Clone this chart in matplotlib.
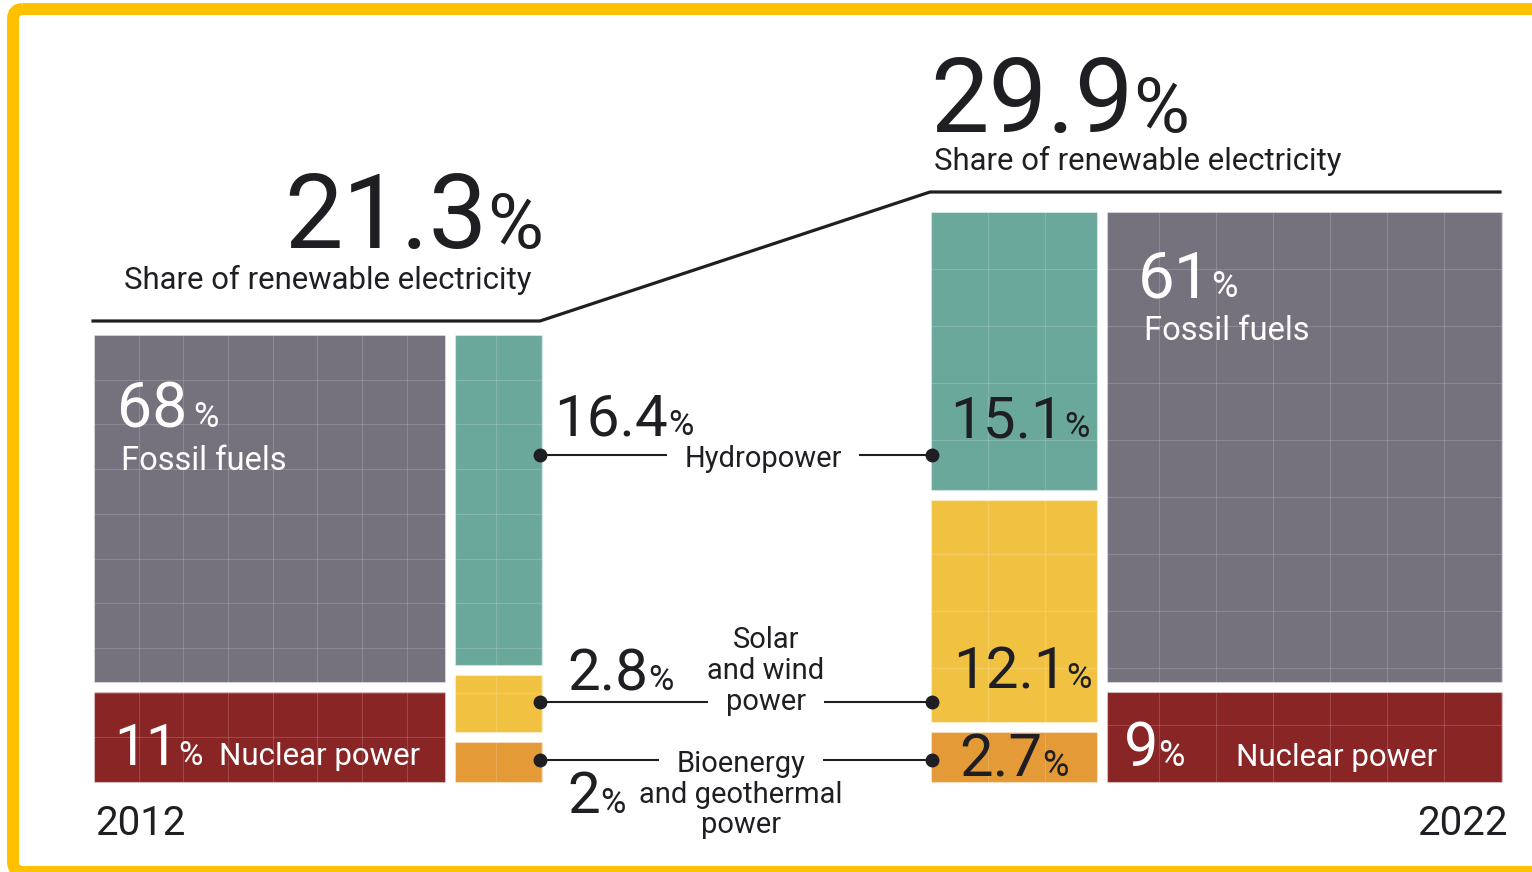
import numpy as np
import matplotlib.pyplot as plt
from matplotlib.patches import FancyBboxPatch

plt.rcParams['font.family'] = ['Roboto', 'DejaVu Sans']

# electricity generation shares, in per cent
years = ['2012', '2022']
renewable_total = [21.3, 29.9]
renewables_2012 = [16.4, 2.8, 2]
renewables_2022 = [15.1, 12.1, 2.7]
fossil_share = [68, 61]
nuclear_share = [11, 9]
renewable_names = [['Hydropower'],
                    ['Solar', 'and wind', 'power'],
                    ['Bioenergy', 'and geothermal', 'power']]

FOSSIL = '#75727d'
NUCLEAR = '#8a2526'
HYDRO = '#6ba89c'
SOLAR = '#f1c242'
BIO = '#e59a38'
INK = '#1f1e22'
FRAME = '#ffc000'

W, H = 1532, 872
fig = plt.figure(figsize=(W / 100, H / 100), dpi=100)
ax = fig.add_axes([0, 0, 1, 1])
ax.set_xlim(0, W)
ax.set_ylim(H, 0)
ax.axis('off')
renderer = fig.canvas.get_renderer()


def stack(values, top, bottom, gap, min_h):
    """Heights proportional to the values, small blocks kept at min_h."""
    v = np.array(values, float)
    avail = bottom - top - gap * (len(v) - 1)
    h = v / v.sum() * avail
    small = h < min_h
    h[small] = min_h
    h[~small] = v[~small] / v[~small].sum() * (avail - min_h * small.sum())
    tops = top + np.concatenate([[0], np.cumsum(h[:-1] + gap)])
    return tops, h


def column(x0, x1, values, colors, top, bottom, min_h, gap=10):
    tops, h = stack(values, top, bottom, gap, min_h)
    ax.bar([x0] * len(values), h, width=x1 - x0, bottom=tops, align='edge',
           color=colors, edgecolor=(1, 1, 1, 0.35), linewidth=0.8, zorder=1)
    return tops, h


def grid(x0, x1, y0, y1, step):
    for x in np.arange(x0 + step, x1, step):
        ax.plot([x, x], [y0, y1], color='white', alpha=0.16, lw=0.8, zorder=2)
    for y in np.arange(y0 + step, y1, step):
        ax.plot([x0, x1], [y, y], color='white', alpha=0.16, lw=0.8, zorder=2)


def value_label(x, y, value, size, pct_size, color, gap=0):
    # big number followed by a smaller per cent sign on the same baseline
    t = ax.text(x, y, f'{value:g}', fontsize=size, color=color,
                va='baseline', ha='left', zorder=6)
    bb = t.get_window_extent(renderer)
    xr = ax.transData.inverted().transform((bb.x1, bb.y0))[0]
    ax.text(xr + gap, y, '%', fontsize=pct_size, color=color,
            va='baseline', ha='left', zorder=6)


bottom = 782
# 2012 panel
left_top = 335
column(94, 445, [fossil_share[0], nuclear_share[0]], [FOSSIL, NUCLEAR],
       left_top, bottom, 90)
column(455, 542, renewables_2012, [HYDRO, SOLAR, BIO], left_top, bottom, 40)
grid(94, 542, left_top, bottom, 44.7)

# 2022 panel
right_top = 212
column(931, 1097, renewables_2022, [HYDRO, SOLAR, BIO], right_top, bottom, 40)
column(1107, 1502, [fossil_share[1], nuclear_share[1]], [FOSSIL, NUCLEAR],
       right_top, bottom, 90)
grid(931, 1502, right_top, bottom, 57)

# bracket over the renewable columns
ax.plot([93, 540, 930, 1500], [left_top - 14, left_top - 14,
                               right_top - 20, right_top - 20],
        color=INK, lw=2.3, solid_joinstyle='miter', zorder=3)

# headline shares
value_label(284, 248, renewable_total[0], 75, 55, INK)
ax.text(124, 289, 'Share of renewable electricity', fontsize=22.4, color=INK,
        va='baseline')
value_label(930, 132, renewable_total[1], 75, 55, INK)
ax.text(934, 170, 'Share of renewable electricity', fontsize=22.4, color=INK,
        va='baseline')

# non-renewable labels
value_label(117, 427, fossil_share[0], 45, 25, 'white', gap=6)
ax.text(121, 470, 'Fossil fuels', fontsize=23.5, color='white', va='baseline')
value_label(114, 765, nuclear_share[0], 41, 24, 'white')
ax.text(219, 765, 'Nuclear power', fontsize=22.5, color='white', va='baseline')

value_label(1138, 297, fossil_share[1], 47, 26, 'white')
ax.text(1144, 340, 'Fossil fuels', fontsize=23.5, color='white', va='baseline')
value_label(1124, 766, nuclear_share[1], 44, 26, 'white')
ax.text(1236, 766, 'Nuclear power', fontsize=22.5, color='white', va='baseline')

# renewable values: 2012 beside the column, 2022 inside it
value_label(554, 435, renewables_2012[0], 42, 25, INK)
value_label(567, 690, renewables_2012[1], 42, 25, INK)
value_label(567, 813, renewables_2012[2], 42, 25, INK)
value_label(950, 437, renewables_2022[0], 42, 25, INK)
value_label(953, 688, renewables_2022[1], 42, 25, INK)
value_label(959, 776, renewables_2022[2], 43, 26, INK)

# connectors between the two years
rows_y = [455, 702, 760]
name_x = [763, 766, 741]
name_base = [[467], [648, 679, 710], [772, 803, 833]]
cross_line = [0, 2, 0]
for y, cx, names, bases, k in zip(rows_y, name_x, renewable_names,
                                  name_base, cross_line):
    ax.plot([540, 932], [y, y], color=INK, lw=1.5, marker='o', ms=9,
            zorder=3)
    for i, (s, b) in enumerate(zip(names, bases)):
        if i == k:
            ax.text(cx, b, s, fontsize=21, color=INK, ha='center',
                    va='baseline', zorder=4,
                    bbox=dict(boxstyle='square,pad=0.6', fc='white',
                              ec='none'))
        else:
            ax.text(cx, b, s, fontsize=21, color=INK, ha='center',
                    va='baseline', zorder=5)

# years
ax.text(95, 835, years[0], fontsize=29, color=INK, va='baseline')
ax.text(1508, 835, years[1], fontsize=29, color=INK, va='baseline', ha='right')

# yellow frame, open to the right and bottom
ax.add_patch(FancyBboxPatch((13, 9), 1540, 863,
                            boxstyle='round,pad=0,rounding_size=10',
                            fill=False, edgecolor=FRAME, lw=8.6, zorder=10))

fig.savefig('out.png', dpi=100)
